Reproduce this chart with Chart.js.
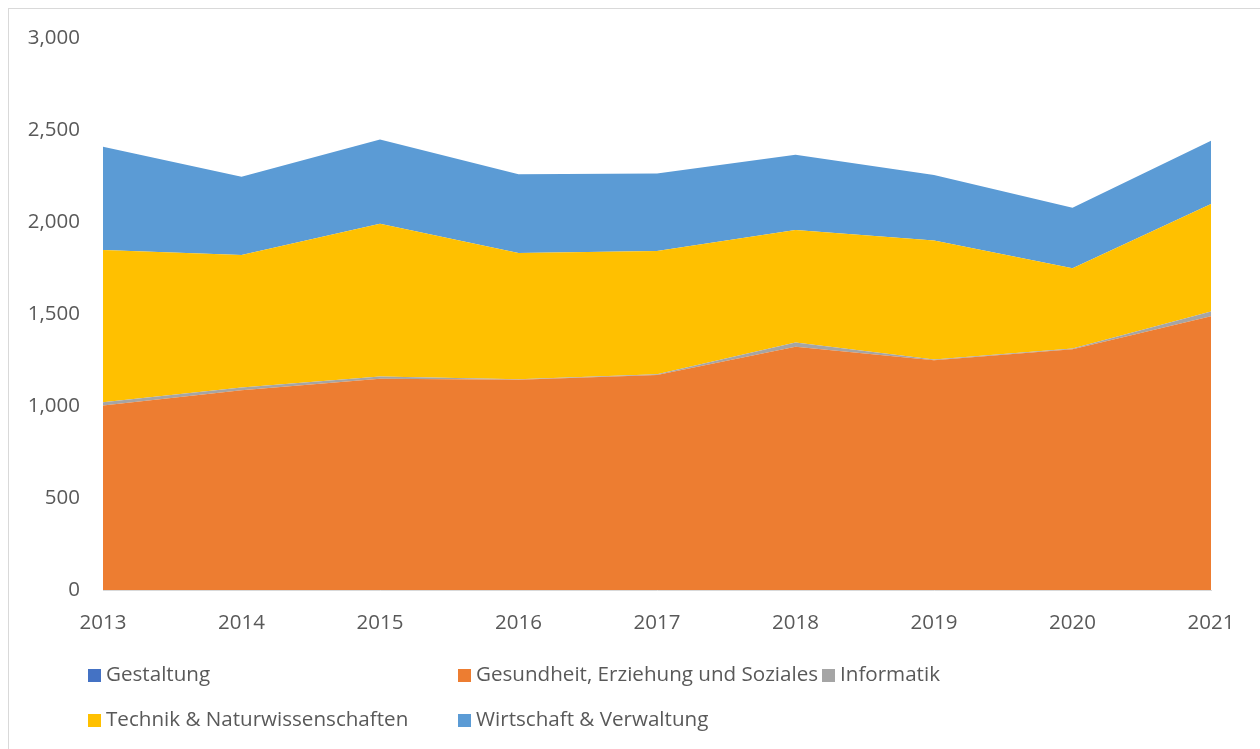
<!DOCTYPE html>
<html>
<head>
<meta charset="utf-8">
<script src="https://cdn.jsdelivr.net/npm/chart.js@4"></script>
<style>
  body { margin: 0; background: #fff; }
  #wrap { position: relative; width: 1260px; height: 749px; }
  #frame { position: absolute; left: 8px; top: 8px; width: 1260px; height: 760px; border: 1px solid #d9d9d9; box-sizing: border-box; }
  canvas { position: absolute; left: 0; top: 0; }
  .leg { position: absolute; font: 20.6px "Open Sans", sans-serif; color: #595959; white-space: nowrap; line-height: 20px; }
  .leg span { display: inline-block; width: 13px; height: 13px; margin-right: 5px; vertical-align: -1px; }
</style>
</head>
<body>
<div id="wrap">
  <div id="frame"></div>
  <canvas id="areaChart" width="1260" height="749"></canvas>
  <div id="legend"></div>
</div>
<script>
// === DATA ===
const years = ["2013", "2014", "2015", "2016", "2017", "2018", "2019", "2020", "2021"];
const gestaltung = [0, 0, 0, 0, 0, 0, 0, 0, 0];
const gesundheit = [1003, 1085, 1148, 1142, 1168, 1322, 1248, 1309, 1488];
const informatik = [17, 15, 12, 4, 4, 23, 5, 4, 25];
const technik = [828, 721, 831, 685, 670, 612, 647, 435, 585];
const wirtschaft = [561, 425, 458, 429, 421, 409, 355, 330, 344];
const yTicks = [0, 500, 1000, 1500, 2000, 2500, 3000];

const series = [
  { label: "Gestaltung", data: gestaltung, color: "#4472C4" },
  { label: "Gesundheit, Erziehung und Soziales", data: gesundheit, color: "#ED7D31" },
  { label: "Informatik", data: informatik, color: "#A5A5A5" },
  { label: "Technik & Naturwissenschaften", data: technik, color: "#FFC000" },
  { label: "Wirtschaft & Verwaltung", data: wirtschaft, color: "#5B9BD5" },
];

const font = { family: "'Open Sans', sans-serif", size: 20.5 };

const ctx = document.getElementById("areaChart").getContext("2d");
const areaChart = new Chart(ctx, {
  type: "line",
  data: {
    labels: years,
    datasets: series.map((s, i) => ({
      label: s.label,
      data: s.data,
      backgroundColor: s.color,
      borderColor: s.color,
      borderWidth: 0,
      pointRadius: 0,
      tension: 0,
      fill: i === 0 ? "origin" : "-1",
    })),
  },
  options: {
    responsive: false,
    animation: false,
    layout: { padding: { top: 38, right: 49, left: 0, bottom: 0 } },
    scales: {
      x: {
        offset: false,
        grid: { display: false, drawTicks: true, tickLength: 8, color: "#d9d9d9" },
        border: { color: "#d9d9d9" },
        ticks: { color: "#595959", font: font, padding: 13, maxRotation: 0 },
        afterFit: (s) => { s.height = 159; },
      },
      y: {
        stacked: true,
        min: 0,
        max: 3000,
        afterBuildTicks: (s) => { s.ticks = yTicks.map((v) => ({ value: v })); },
        grid: { display: false },
        border: { display: false },
        ticks: {
          color: "#595959",
          font: font,
          padding: 15,
          callback: (v) => v.toLocaleString("en-US"),
        },
        afterFit: (s) => { s.width = 103; },
      },
    },
    plugins: { legend: { display: false }, tooltip: { enabled: false } },
  },
});

// === LEGEND ===
const legendPos = [
  [88, 663], [458, 663], [822, 663],
  [88, 708], [458, 708],
];
const legend = document.getElementById("legend");
series.forEach((s, i) => {
  const d = document.createElement("div");
  d.className = "leg";
  d.style.left = legendPos[i][0] + "px";
  d.style.top = legendPos[i][1] + "px";
  d.innerHTML = '<span style="background:' + s.color + '"></span>' + s.label;
  legend.appendChild(d);
});
</script>
</body>
</html>
